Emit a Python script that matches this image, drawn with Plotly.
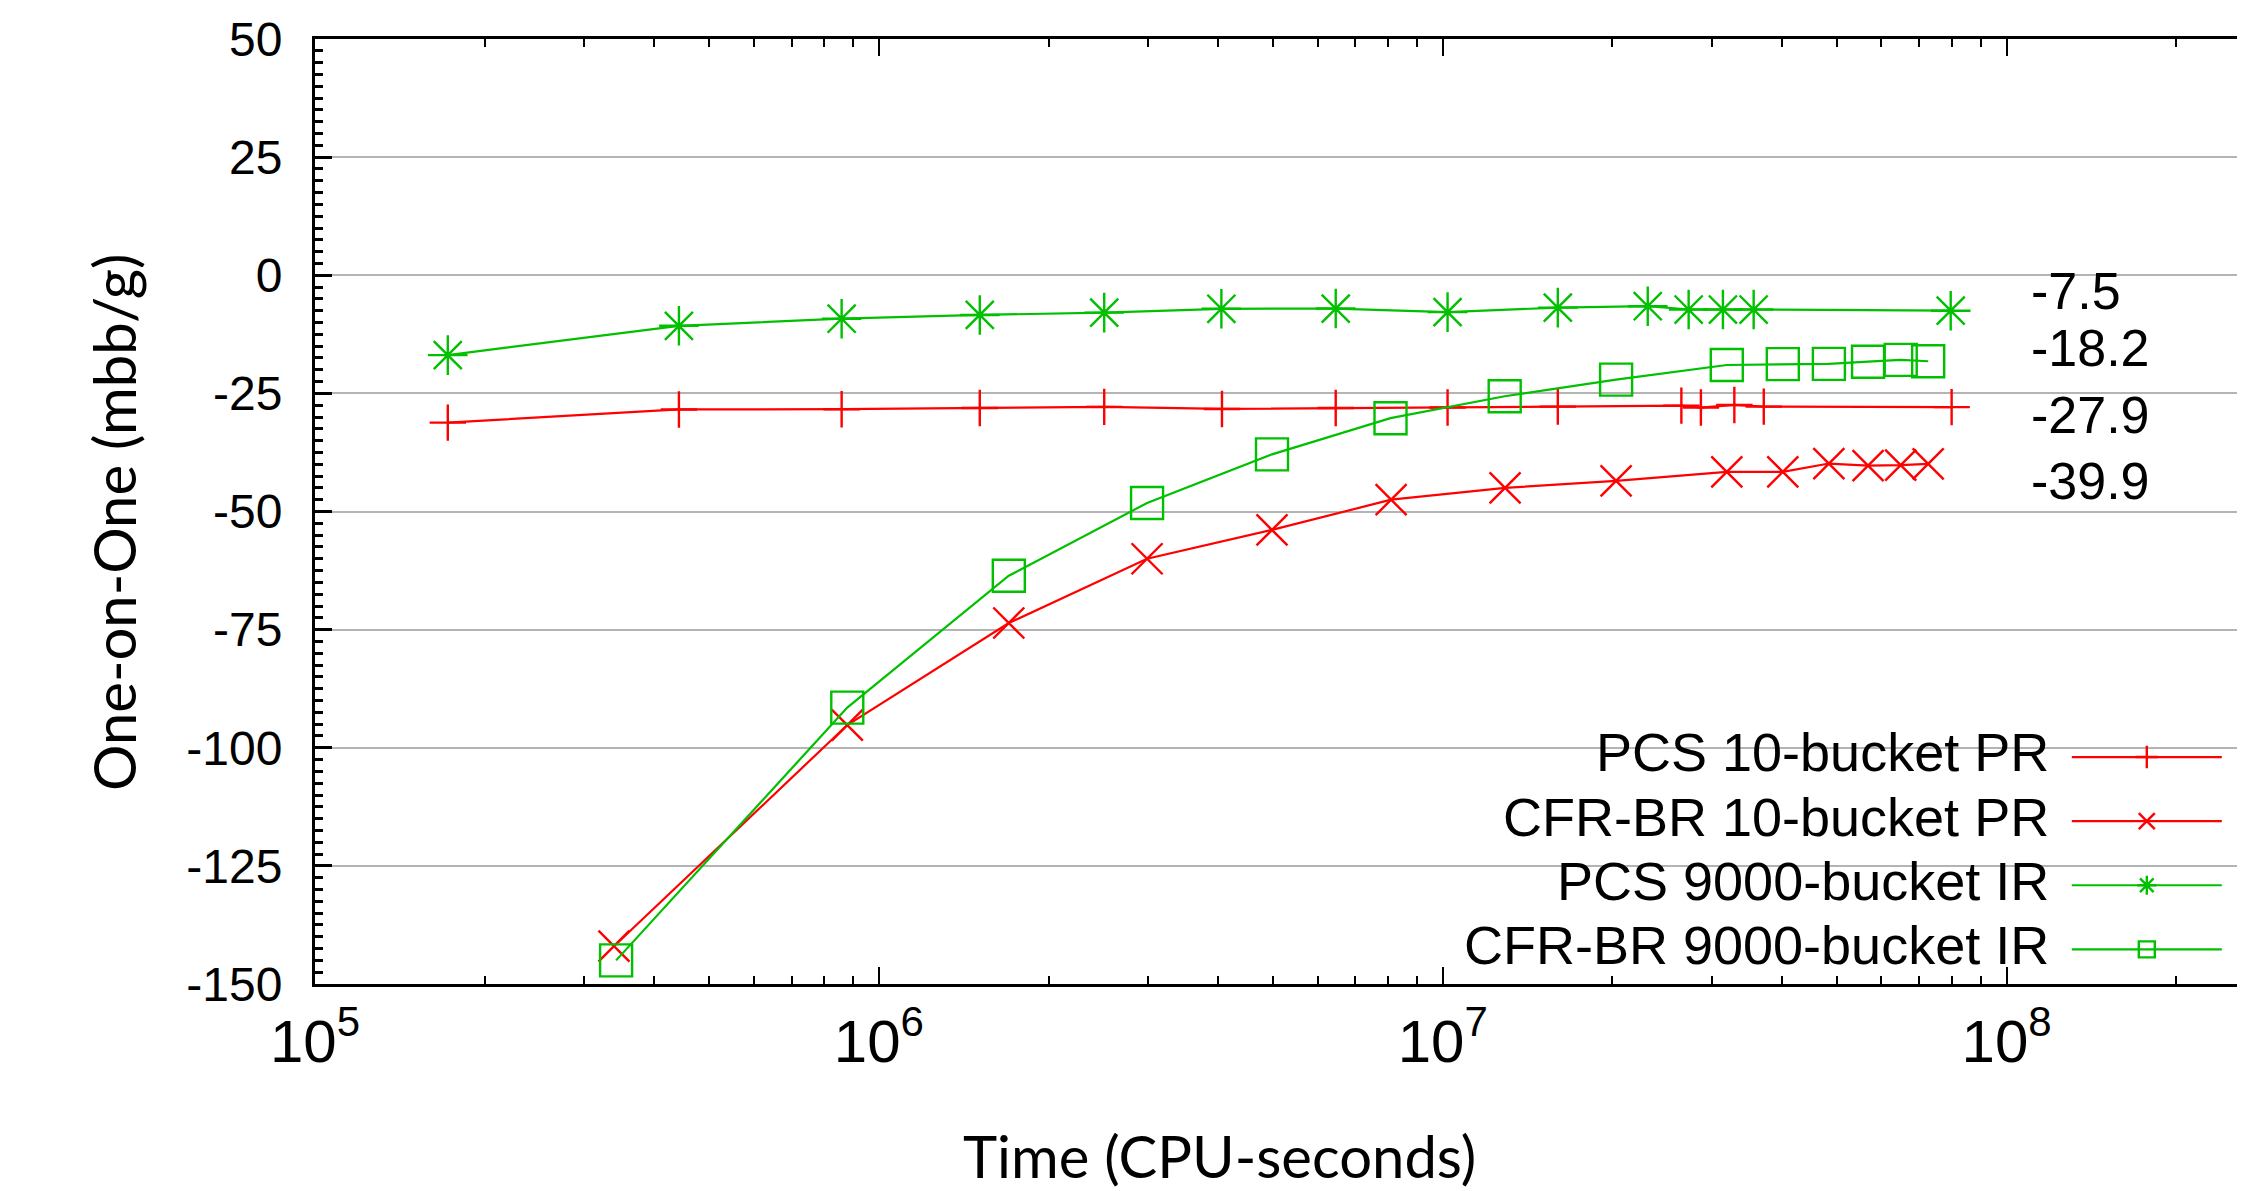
import plotly.graph_objects as go

# ---- data ----
pcs_pr_t = [1.72e5, 4.42e5, 8.59e5, 1.51e6, 2.51e6, 4.06e6, 6.46e6, 1.02e7, 1.60e7, 2.65e7, 2.87e7, 3.29e7, 3.71e7, 7.99e7]
pcs_pr_v = [-31.2, -28.4, -28.35, -28.1, -27.85, -28.3, -28.1, -28.0, -27.8, -27.6, -28.0, -27.45, -27.8, -27.9]

cfr_pr_t = [3.39e5, 8.79e5, 1.70e6, 2.99e6, 4.98e6, 8.10e6, 1.29e7, 2.03e7, 3.19e7, 4.01e7, 4.84e7, 5.68e7, 6.49e7, 7.26e7]
cfr_pr_v = [-142.0, -95.2, -73.6, -60.0, -53.9, -47.5, -45.0, -43.5, -41.6, -41.6, -39.85, -40.3, -40.2, -39.9]

pcs_ir_t = [1.72e5, 4.42e5, 8.59e5, 1.51e6, 2.51e6, 4.05e6, 6.46e6, 1.02e7, 1.60e7, 2.31e7, 2.73e7, 3.14e7, 3.56e7, 7.96e7]
pcs_ir_v = [-16.9, -10.7, -9.2, -8.4, -7.9, -7.1, -7.05, -7.8, -6.85, -6.55, -7.25, -7.25, -7.25, -7.5]

cfr_ir_t = [3.42e5, 8.79e5, 1.70e6, 2.99e6, 4.98e6, 8.08e6, 1.288e7, 2.03e7, 3.19e7, 4.01e7, 4.84e7, 5.68e7, 6.49e7, 7.26e7]
cfr_ir_v = [-145.0, -91.5, -63.6, -48.2, -37.9, -30.25, -25.6, -22.1, -19.0, -18.8, -18.75, -18.3, -17.9, -18.2]

series_names = ["PCS 10-bucket PR", "CFR-BR 10-bucket PR", "PCS 9000-bucket IR", "CFR-BR 9000-bucket IR"]
final_labels = ["-7.5", "-18.2", "-27.9", "-39.9"]

y_tick_vals = [50, 25, 0, -25, -50, -75, -100, -125, -150]
y_tick_text = ["50", "25", "0", "-25", "-50", "-75", "-100", "-125", "-150"]

RED = "#ff0000"
GREEN = "#00c000"

W, H = 2246, 1191
L, T, B, R = 315, 39, 207, 0
PW, PH = W - L - R, H - T - B

def px_x(px):
    return (px - L) / PW

def px_y(py):
    return (H - B - py) / PH

fig = go.Figure()

styles = [
    (pcs_pr_t, pcs_pr_v, RED, "cross-thin-open", 26),
    (cfr_pr_t, cfr_pr_v, RED, "x-thin-open", 31),
    (pcs_ir_t, pcs_ir_v, GREEN, "asterisk-open", 33),
    (cfr_ir_t, cfr_ir_v, GREEN, "square-open", 32),
]

for (t, v, col, sym, sz), name in zip(styles, series_names):
    fig.add_trace(go.Scatter(
        x=t, y=v, mode="lines+markers", name=" ",
        line=dict(color=col, width=2.2),
        marker=dict(symbol=sym, size=sz, color=col, line=dict(color=col, width=2.4)),
        showlegend=True,
    ))

TICKFONT = dict(family="Liberation Sans, Arial, sans-serif", size=48, color="black")
TITLEFONT = dict(family="Lato, sans-serif", size=58, color="black")

fig.update_layout(
    width=W, height=H,
    margin=dict(l=L, r=R, t=T, b=B, pad=0),
    paper_bgcolor="white", plot_bgcolor="white",
    showlegend=True,
    legend=dict(
        x=px_x(2075), y=px_y(720), xanchor="left", yanchor="top",
        bgcolor="rgba(0,0,0,0)", borderwidth=0,
        font=dict(family="Liberation Sans, Arial, sans-serif", size=47, color="black"),
        itemwidth=150, itemsizing="trace", tracegroupgap=0,
    ),
    xaxis=dict(
        type="log", range=[5, 5 + (W - R - L) / 566.5], dtick=1,
        exponentformat="power", showexponent="all",
        ticks="inside", ticklen=17, tickwidth=2, tickcolor="black",
        showline=True, linecolor="black", linewidth=3, mirror="ticks",
        showgrid=False, zeroline=False,
        tickfont=TICKFONT, ticklabelstandoff=5,
        minor=dict(dtick="D1", ticks="inside", ticklen=8, tickwidth=2, tickcolor="black", showgrid=False),
    ),
    yaxis=dict(
        range=[-150, 50], tickvals=y_tick_vals, ticktext=y_tick_text,
        ticks="inside", ticklen=17, tickwidth=3, tickcolor="black",
        showline=True, linecolor="black", linewidth=3, mirror=False,
        showgrid=True, gridcolor="#b4b4b4", gridwidth=1.5, zeroline=False,
        tickfont=TICKFONT, ticklabelstandoff=20,
        minor=dict(dtick=2.5, ticks="inside", ticklen=8, tickwidth=2.5, tickcolor="black", showgrid=False),
    ),
)

# opaque legend box hiding gridlines (as in the reference)
fig.add_shape(type="rect", xref="paper", yref="paper", x0=px_x(1425), x1=1.0, y0=0, y1=px_y(712),
              fillcolor="white", line=dict(width=0), layer="between")

# legend texts (right aligned, key on the right)
legend_y_px = [752, 816.5, 881, 945]
for name, ypx in zip(series_names, legend_y_px):
    fig.add_annotation(x=px_x(2059), y=px_y(ypx), xref="paper", yref="paper", text=name,
                       showarrow=False, xanchor="right", yanchor="middle",
                       font=dict(family="Liberation Sans, Arial, sans-serif", size=54, color="black"))

# final value labels
label_y_px = [291, 348, 415, 481]
for lab, ypx in zip(final_labels, label_y_px):
    fig.add_annotation(x=px_x(2037), y=px_y(ypx), xref="paper", yref="paper", text=lab,
                       showarrow=False, xanchor="left", yanchor="middle",
                       font=dict(family="Liberation Sans, Arial, sans-serif", size=52, color="black"))

# axis titles
fig.add_annotation(x=px_x(1224), y=px_y(1155), xref="paper", yref="paper", text="Time (CPU-seconds)",
                   showarrow=False, xanchor="center", yanchor="middle", font=TITLEFONT)
fig.add_annotation(x=px_x(112), y=px_y(522), xref="paper", yref="paper", text="One-on-One (mbb/g)",
                   showarrow=False, xanchor="center", yanchor="middle", textangle=-90, font=TITLEFONT)

fig.write_html("out.html", config={"displayModeBar": False},
               post_script="document.body.style.margin='0px';document.body.style.overflow='hidden';")
